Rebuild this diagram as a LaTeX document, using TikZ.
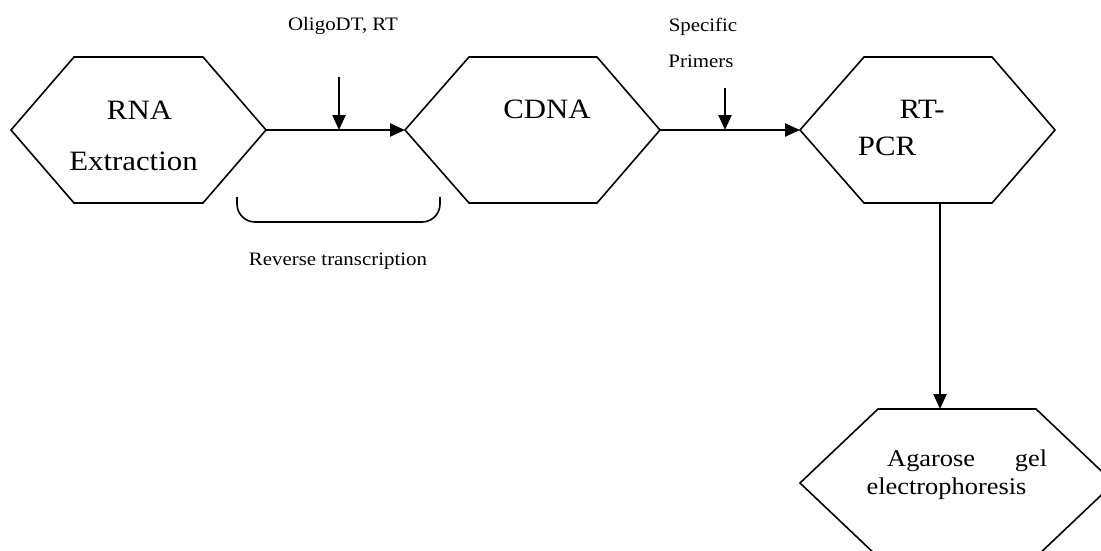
\documentclass[tikz,border=0pt]{standalone}
\usepackage{fontspec}
\setmainfont{Liberation Serif}[FakeStretch=1.1]
\usetikzlibrary{arrows.meta}
\tikzset{
  hexbox/.style={draw=none, inner sep=0pt, outer sep=0pt},
  hexline/.style={draw=black, line width=1.6pt, line join=miter},
  arr/.style={draw=black, line width=2.4pt, -{Triangle[length=15pt,width=13pt]}},
  bigtxt/.style={inner sep=0pt, anchor=base, font=\fontsize{28}{34}\selectfont},
  smalltxt/.style={inner sep=0pt, anchor=base, font=\fontsize{19}{23}\selectfont},
  geltxt/.style={inner sep=0pt, anchor=base, font=\fontsize{24}{28}\selectfont},
  bracket/.style={draw=black, line width=1.6pt, rounded corners=18pt}
}
\begin{document}
\begin{tikzpicture}[x=1pt,y=-1pt]
\useasboundingbox (0,0) rectangle (1101,551);
% hexagon bodies
\node[hexbox, minimum width=129pt, minimum height=146pt] (rna) at (138.5,130) {};
\node[hexbox, minimum width=128pt, minimum height=146pt] (cdna) at (533,130) {};
\node[hexbox, minimum width=128pt, minimum height=146pt] (pcr) at (928,130) {};
\node[hexbox, minimum width=158pt, minimum height=148pt] (gel) at (957,483) {};
\draw[hexline] (rna.north west) -- (rna.north east) -- ([xshift=63pt]rna.east) coordinate (rna-r)
  -- (rna.south east) -- (rna.south west) -- ([xshift=-63pt]rna.west) coordinate (rna-l) -- cycle;
\draw[hexline] (cdna.north west) -- (cdna.north east) -- ([xshift=63pt]cdna.east) coordinate (cdna-r)
  -- (cdna.south east) -- (cdna.south west) -- ([xshift=-64pt]cdna.west) coordinate (cdna-l) -- cycle;
\draw[hexline] (pcr.north west) -- (pcr.north east) -- ([xshift=63pt]pcr.east) coordinate (pcr-r)
  -- (pcr.south east) -- (pcr.south west) -- ([xshift=-64pt]pcr.west) coordinate (pcr-l) -- cycle;
\draw[hexline] (gel.north west) -- (gel.north east) -- ([xshift=78pt]gel.east) coordinate (gel-r)
  -- (gel.south east) -- (gel.south west) -- ([xshift=-78pt]gel.west) coordinate (gel-l) -- cycle;
% labels inside hexagons
\node[bigtxt] (rnaA) at (139.5,119) {RNA};
\node[bigtxt] (rnaB) at (133.5,170) {Extraction};
\node[bigtxt] (cdnaT) at (547,118) {CDNA};
\node[bigtxt] (pcrA) at (922,118) {RT-};
\node[bigtxt] (pcrB) at (887,155) {PCR};
\node[geltxt, anchor=base west] (gelA) at (887,466) {\makebox[160pt][s]{Agarose\hfill gel}};
\node[geltxt] (gelB) at (946.5,494) {electrophoresis};
% main connectors
\draw[arr] (rna-r) -- (cdna-l);
\draw[arr] (cdna-r) -- (pcr-l);
\draw[arr] ([xshift=12pt]pcr.south) -- ([xshift=-17pt]gel.north);
% reagent inputs
\node[smalltxt] (oligo) at (343,31) {OligoDT, RT};
\node[smalltxt] (spec) at (703,32) {Specific};
\node[smalltxt] (prim) at (701,68) {Primers};
\coordinate (oligoIn) at (339,77);
\coordinate (oligoOn) at (339,130);
\coordinate (primIn) at (725,88);
\coordinate (primOn) at (725,130);
\draw[arr] (oligoIn) -- (oligoOn);
\draw[arr] (primIn) -- (primOn);
% bracket and caption
\coordinate (brA) at (237,197);
\coordinate (brB) at (440,197);
\draw[bracket] (brA) -- (237,222) -- (440,222) -- (brB);
\node[smalltxt] (rt) at (338,265) {Reverse transcription};
\end{tikzpicture}
\end{document}
